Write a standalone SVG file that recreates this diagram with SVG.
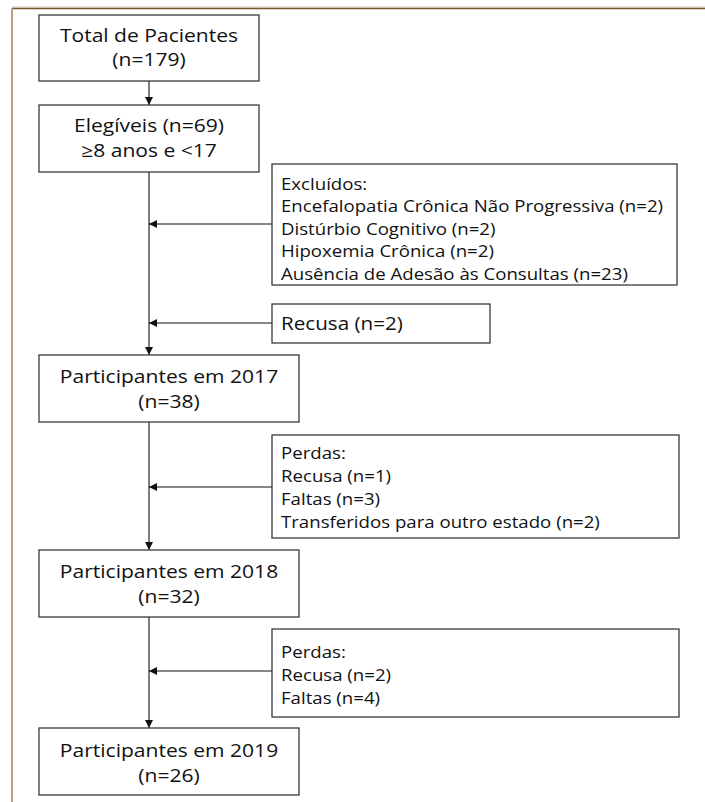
<svg xmlns="http://www.w3.org/2000/svg" width="705" height="802" viewBox="0 0 705 802">
<defs>
<style>
.box{fill:#fff;stroke:#3a3a3a;stroke-width:1.3}
.t{font-family:"Open Sans","Liberation Sans",sans-serif;fill:#111}
.big{font-size:18px;text-anchor:middle}
.sm{font-size:15.8px}
.edge{stroke:#111;stroke-width:1.1;fill:none;marker-end:url(#ah)}
</style>
<marker id="ah" viewBox="0 0 10 10" refX="10" refY="5" markerWidth="8" markerHeight="8" markerUnits="userSpaceOnUse" orient="auto">
<path d="M0,0 L10,5 L0,10 z" fill="#111"/>
</marker>
</defs>
<rect width="705" height="802" fill="#fff"/>
<g id="frame">
<line x1="12" y1="7" x2="705" y2="7" stroke="#d8cbb2" stroke-width="1"/>
<line x1="12" y1="8.5" x2="705" y2="8.5" stroke="#7a5628" stroke-width="1.5"/>
<line x1="12" y1="8" x2="12" y2="802" stroke="#b3a383" stroke-width="2"/>
</g>
<g id="connectors">
<line class="edge" x1="149" y1="81" x2="149" y2="105"/>
<line class="edge" x1="149" y1="172" x2="149" y2="355"/>
<line class="edge" x1="272" y1="224" x2="149" y2="224"/>
<line class="edge" x1="272" y1="323" x2="149" y2="323"/>
<line class="edge" x1="149" y1="422" x2="149" y2="550"/>
<line class="edge" x1="272" y1="487" x2="149" y2="487"/>
<line class="edge" x1="149" y1="617" x2="149" y2="728"/>
<line class="edge" x1="272" y1="671" x2="149" y2="671"/>
</g>
<g id="total">
<rect class="box" x="39" y="15" width="220" height="66"/>
<text class="t big" transform="translate(149,42) scale(1.17,1)">Total de Pacientes</text>
<text class="t big" transform="translate(149,66) scale(1.17,1)">(n=179)</text>
</g>
<g id="elegiveis">
<rect class="box" x="39" y="105" width="220" height="67"/>
<text class="t big" transform="translate(149,132) scale(1.17,1)">Elegíveis (n=69)</text>
<text class="t big" transform="translate(149,157) scale(1.17,1)">≥8 anos e &lt;17</text>
</g>
<g id="excluidos">
<rect class="box" x="272" y="164" width="405" height="121"/>
<text class="t sm" transform="translate(281,189.5) scale(1.18,1)">Excluídos:</text>
<text class="t sm" transform="translate(281,212) scale(1.18,1)">Encefalopatia Crônica Não Progressiva (n=2)</text>
<text class="t sm" transform="translate(281,234.5) scale(1.18,1)">Distúrbio Cognitivo (n=2)</text>
<text class="t sm" transform="translate(281,257) scale(1.18,1)">Hipoxemia Crônica (n=2)</text>
<text class="t sm" transform="translate(281,279.5) scale(1.18,1)">Ausência de Adesão às Consultas (n=23)</text>
</g>
<g id="recusa">
<rect class="box" x="272" y="304" width="218" height="39"/>
<text class="t" font-size="17.5" transform="translate(281,330) scale(1.18,1)">Recusa (n=2)</text>
</g>
<g id="p2017">
<rect class="box" x="39" y="355" width="260" height="67"/>
<text class="t big" transform="translate(169,383) scale(1.17,1)">Participantes em 2017</text>
<text class="t big" transform="translate(169,408) scale(1.17,1)">(n=38)</text>
</g>
<g id="perdas1">
<rect class="box" x="272" y="435" width="407" height="103"/>
<text class="t sm" transform="translate(281,458.5) scale(1.18,1)">Perdas:</text>
<text class="t sm" transform="translate(281,481.5) scale(1.18,1)">Recusa (n=1)</text>
<text class="t sm" transform="translate(281,504.5) scale(1.18,1)">Faltas (n=3)</text>
<text class="t sm" transform="translate(281,527.5) scale(1.18,1)">Transferidos para outro estado (n=2)</text>
</g>
<g id="p2018">
<rect class="box" x="39" y="550" width="260" height="67"/>
<text class="t big" transform="translate(169,578) scale(1.17,1)">Participantes em 2018</text>
<text class="t big" transform="translate(169,603) scale(1.17,1)">(n=32)</text>
</g>
<g id="perdas2">
<rect class="box" x="272" y="629" width="407" height="88"/>
<text class="t sm" transform="translate(281,658) scale(1.18,1)">Perdas:</text>
<text class="t sm" transform="translate(281,681) scale(1.18,1)">Recusa (n=2)</text>
<text class="t sm" transform="translate(281,704) scale(1.18,1)">Faltas (n=4)</text>
</g>
<g id="p2019">
<rect class="box" x="39" y="728" width="260" height="67"/>
<text class="t big" transform="translate(169,757) scale(1.17,1)">Participantes em 2019</text>
<text class="t big" transform="translate(169,782) scale(1.17,1)">(n=26)</text>
</g>
</svg>
